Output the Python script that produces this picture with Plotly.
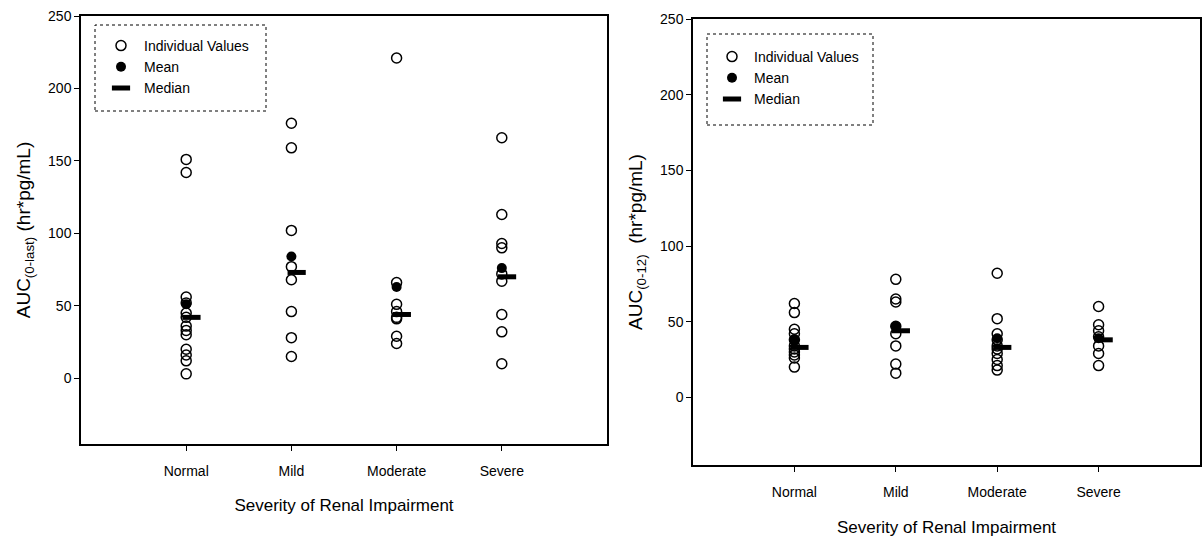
import plotly.graph_objects as go

categories = ["Normal", "Mild", "Moderate", "Severe"]

# Left panel: AUC(0-last)
left_individual = {
    "Normal": [151, 142, 56, 52, 45, 42, 36, 33, 30, 20, 16, 12, 3],
    "Mild": [176, 159, 102, 77, 68, 46, 28, 15],
    "Moderate": [221, 66, 51, 46, 42, 41, 29, 24],
    "Severe": [166, 113, 93, 90, 72, 67, 44, 32, 10],
}
left_mean = [51, 84, 63, 76]
left_median = [42, 73, 44, 70]

# Right panel: AUC(0-12)
right_individual = {
    "Normal": [62, 56, 45, 42, 38, 34, 32, 30, 28, 26, 20],
    "Mild": [78, 65, 63, 47, 42, 34, 22, 16],
    "Moderate": [82, 52, 42, 38, 34, 32, 29, 25, 21, 18],
    "Severe": [60, 48, 44, 40, 34, 29, 21],
}
right_mean = [38, 47, 39, 39]
right_median = [33, 44, 33, 38]

y_ticks = [0, 50, 100, 150, 200, 250]

W, H = 1204, 545
FONT = "Liberation Sans, Arial, sans-serif"
MEDIAN_SHIFT = 0.05

def px_x(p):
    return p / W

def px_y(p):
    return 1 - p / H

pos = {c: i + 1 for i, c in enumerate(categories)}

fig = go.Figure()

def add_panel(individual, means, medians, xa, ya, legend_name):
    xs, ys = [], []
    for c in categories:
        for v in individual[c]:
            xs.append(pos[c])
            ys.append(v)
    fig.add_trace(go.Scatter(
        x=xs, y=ys, mode="markers", name="Individual Values",
        marker=dict(symbol="circle-open", size=10, color="black", line=dict(width=1.5, color="black")),
        xaxis=xa, yaxis=ya, legend=legend_name, showlegend=True))
    fig.add_trace(go.Scatter(
        x=[pos[c] for c in categories], y=means, mode="markers", name="Mean",
        marker=dict(symbol="circle", size=10, color="black"),
        xaxis=xa, yaxis=ya, legend=legend_name, showlegend=True))
    fig.add_trace(go.Scatter(
        x=[pos[c] + MEDIAN_SHIFT for c in categories], y=medians, mode="markers", name="Median",
        marker=dict(symbol="line-ew", size=13, color="black", line=dict(width=5, color="black")),
        xaxis=xa, yaxis=ya, legend=legend_name, showlegend=True))

add_panel(left_individual, left_mean, left_median, "x", "y", "legend")
add_panel(right_individual, right_mean, right_median, "x2", "y2", "legend2")

axis_common = dict(
    showgrid=False, zeroline=False, showline=True, linecolor="black", linewidth=1.5,
    mirror=True, ticks="outside", ticklen=5, tickcolor="black", tickwidth=1,
    tickfont=dict(family=FONT, size=14, color="black"), automargin=False,
)

fig.update_layout(
    width=W, height=H,
    margin=dict(l=0, r=0, t=0, b=0),
    paper_bgcolor="white", plot_bgcolor="white",
    font=dict(family=FONT, color="black"),
    xaxis=dict(domain=[px_x(81), px_x(607)], range=[0, 5],
               tickvals=[pos[c] for c in categories], ticktext=categories,
               ticklabelstandoff=8,
               title=dict(text="Severity of Renal Impairment", font=dict(size=17), standoff=22),
               anchor="y", **axis_common),
    yaxis=dict(domain=[px_y(444), px_y(16)], range=[-45.4, 250], tickvals=y_ticks,
               title=dict(text="AUC<sub>(0-last)</sub> (hr*pg/mL)", font=dict(size=19), standoff=12),
               anchor="x", **axis_common),
    xaxis2=dict(domain=[px_x(693), px_x(1200)], range=[0, 5],
                tickvals=[pos[c] for c in categories], ticktext=categories,
                ticklabelstandoff=8,
                title=dict(text="Severity of Renal Impairment", font=dict(size=17), standoff=23),
                anchor="y2", **axis_common),
    yaxis2=dict(domain=[px_y(465), px_y(19)], range=[-44.7, 250], tickvals=y_ticks,
                title=dict(text="AUC<sub>(0-12)</sub>  (hr*pg/mL)", font=dict(size=19), standoff=12),
                anchor="x2", **axis_common),
    legend=dict(x=px_x(98), y=px_y(30), xanchor="left", yanchor="top",
                bgcolor="rgba(0,0,0,0)", borderwidth=0, itemwidth=36,
                font=dict(family=FONT, size=14, color="black"), tracegroupgap=0),
    legend2=dict(x=px_x(710), y=px_y(41), xanchor="left", yanchor="top",
                 bgcolor="rgba(0,0,0,0)", borderwidth=0, itemwidth=34,
                 font=dict(family=FONT, size=14, color="black"), tracegroupgap=0),
    shapes=[
        dict(type="rect", xref="paper", yref="paper",
             x0=px_x(95), x1=px_x(266), y0=px_y(111), y1=px_y(25),
             line=dict(color="black", width=1, dash="dot"), fillcolor="rgba(0,0,0,0)"),
        dict(type="rect", xref="paper", yref="paper",
             x0=px_x(707), x1=px_x(873), y0=px_y(125), y1=px_y(34),
             line=dict(color="black", width=1, dash="dot"), fillcolor="rgba(0,0,0,0)"),
    ],
)

fig.write_html("out.html")
